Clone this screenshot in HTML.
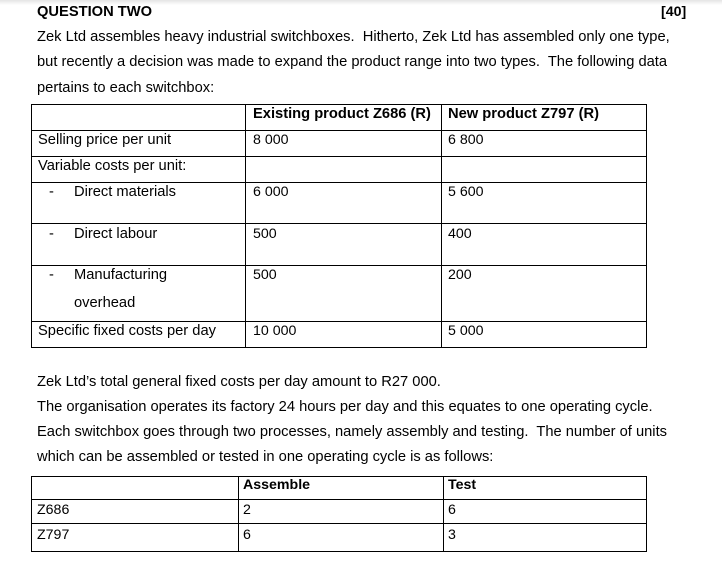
<!DOCTYPE html>
<html><head><meta charset="utf-8">
<style>
body{margin:0;width:722px;height:565px;background:#fff;position:relative;overflow:hidden;font-family:"Liberation Sans",Arial,sans-serif;font-size:14.7px;color:#000}
.t{position:absolute;white-space:nowrap;line-height:16px}
.b{font-weight:bold}
.v{font-size:14.2px}
.l{position:absolute;background:#000}
.shadow{position:absolute;left:0;top:0;width:722px;height:5px;background:linear-gradient(#e4e4e4,#fff)}
</style></head><body>
<div class="shadow"></div>
<div class="t b" style="left:37px;top:4px">QUESTION TWO</div>
<div class="t b" style="left:661px;top:4px;font-size:14.2px">[40]</div>
<div class="t" style="left:37px;top:29px">Zek Ltd assembles heavy industrial switchboxes.&nbsp; Hitherto, Zek Ltd has assembled only one type,</div>
<div class="t" style="left:37px;top:54px">but recently a decision was made to expand the product range into two types.&nbsp; The following data</div>
<div class="t" style="left:37px;top:80px">pertains to each switchbox:</div>

<div>
<div class="l" style="left:31px;top:104px;width:616px;height:1px"></div>
<div class="l" style="left:31px;top:130px;width:616px;height:1px"></div>
<div class="l" style="left:31px;top:156px;width:616px;height:1px"></div>
<div class="l" style="left:31px;top:182px;width:616px;height:1px"></div>
<div class="l" style="left:31px;top:223px;width:616px;height:1px"></div>
<div class="l" style="left:31px;top:265px;width:616px;height:1px"></div>
<div class="l" style="left:31px;top:321px;width:616px;height:1px"></div>
<div class="l" style="left:31px;top:347px;width:616px;height:1px"></div>
<div class="l" style="left:31px;top:104px;width:1px;height:244px"></div>
<div class="l" style="left:245px;top:104px;width:1px;height:244px"></div>
<div class="l" style="left:441px;top:104px;width:1px;height:244px"></div>
<div class="l" style="left:646px;top:104px;width:1px;height:244px"></div>
<div class="t b" style="left:253px;top:106px">Existing product Z686 (R)</div>
<div class="t b" style="left:448px;top:106px">New product Z797 (R)</div>
<div class="t" style="left:38px;top:132px">Selling price per unit</div>
<div class="t v" style="left:253px;top:132px">8 000</div>
<div class="t v" style="left:448px;top:132px">6 800</div>
<div class="t" style="left:38px;top:158px">Variable costs per unit:</div>
<div class="t" style="left:49px;top:184px">-</div><div class="t" style="left:74px;top:184px">Direct materials</div>
<div class="t v" style="left:253px;top:184px">6 000</div>
<div class="t v" style="left:448px;top:184px">5 600</div>
<div class="t" style="left:49px;top:226px">-</div><div class="t" style="left:74px;top:226px">Direct labour</div>
<div class="t v" style="left:253px;top:226px">500</div>
<div class="t v" style="left:448px;top:226px">400</div>
<div class="t" style="left:49px;top:267px">-</div><div class="t" style="left:74px;top:267px">Manufacturing</div>
<div class="t" style="left:74px;top:295px">overhead</div>
<div class="t v" style="left:253px;top:267px">500</div>
<div class="t v" style="left:448px;top:267px">200</div>
<div class="t" style="left:38px;top:323px">Specific fixed costs per day</div>
<div class="t v" style="left:253px;top:323px">10 000</div>
<div class="t v" style="left:448px;top:323px">5 000</div>
</div>

<div class="t" style="left:37px;top:374px">Zek Ltd’s total general fixed costs per day amount to R27 000.</div>
<div class="t" style="left:37px;top:399px">The organisation operates its factory 24 hours per day and this equates to one operating cycle.</div>
<div class="t" style="left:37px;top:424px">Each switchbox goes through two processes, namely assembly and testing.&nbsp; The number of units</div>
<div class="t" style="left:37px;top:449px">which can be assembled or tested in one operating cycle is as follows:</div>

<div>
<div class="l" style="left:31px;top:476px;width:616px;height:1px"></div>
<div class="l" style="left:31px;top:499px;width:616px;height:1px"></div>
<div class="l" style="left:31px;top:523px;width:616px;height:1px"></div>
<div class="l" style="left:31px;top:551px;width:616px;height:1px"></div>
<div class="l" style="left:31px;top:476px;width:1px;height:76px"></div>
<div class="l" style="left:238px;top:476px;width:1px;height:76px"></div>
<div class="l" style="left:443px;top:476px;width:1px;height:76px"></div>
<div class="l" style="left:646px;top:476px;width:1px;height:76px"></div>
<div class="t b v" style="left:243px;top:477px">Assemble</div>
<div class="t b v" style="left:448px;top:477px">Test</div>
<div class="t v" style="left:37px;top:502px">Z686</div>
<div class="t v" style="left:243px;top:502px">2</div>
<div class="t v" style="left:448px;top:502px">6</div>
<div class="t v" style="left:37px;top:527px">Z797</div>
<div class="t v" style="left:243px;top:527px">6</div>
<div class="t v" style="left:448px;top:527px">3</div>
</div>
</body></html>
